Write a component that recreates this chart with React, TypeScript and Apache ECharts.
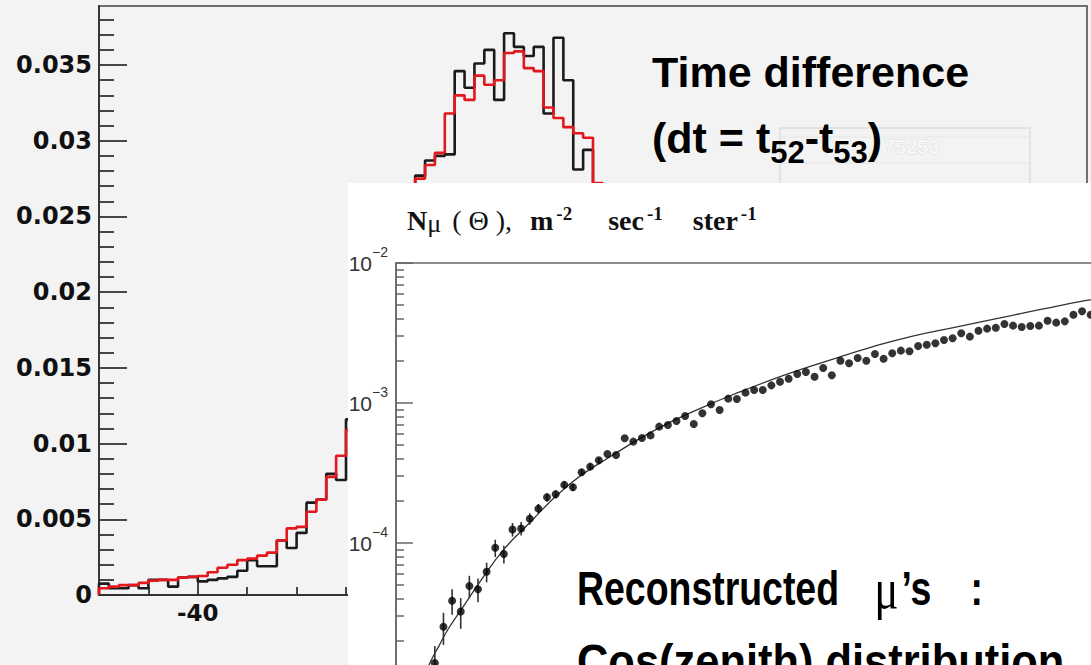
import React, { useEffect, useRef } from "react";
import * as echarts from "echarts";

// ---------- Histogram (dt = t52 - t53) ----------
const histXMin = -50;
const histXMax = 50;
const histBinWidth = 1;
const histXMajorTicks = [-40, -20, 0, 20, 40];
const histXMinorTicks = [-45, -35, -30, -25, -15, -10, -5, 5, 10, 15, 25, 30, 35, 45];
const histYMax = 0.0389;
const histYMajorTicks = [0, 0.005, 0.01, 0.015, 0.02, 0.025, 0.03, 0.035];
const histYMinorTicks = [
  0.001, 0.002, 0.003, 0.004, 0.006, 0.007, 0.008, 0.009, 0.011, 0.012, 0.013, 0.014,
  0.016, 0.017, 0.018, 0.019, 0.021, 0.022, 0.023, 0.024, 0.026, 0.027, 0.028, 0.029,
  0.031, 0.032, 0.033, 0.034, 0.036, 0.037, 0.038,
];
const blackHist = [
  0.00075, 0.00045, 0.00045, 0.00065, 0.00045, 0.001, 0.001, 0.00055, 0.00115, 0.0012,
  0.0009, 0.001, 0.0011, 0.0012, 0.0016, 0.0023, 0.0019, 0.0019, 0.0036, 0.0031,
  0.0041, 0.0061, 0.0063, 0.008, 0.0076, 0.0116, 0.013, 0.0155, 0.0178, 0.0205,
  0.023, 0.0255, 0.0277, 0.0287, 0.029, 0.0291, 0.0346, 0.0335, 0.0351, 0.036,
  0.0327, 0.0371, 0.0362, 0.0356, 0.0362, 0.0318, 0.0368, 0.034, 0.0281, 0.0294,
  0.026, 0.0245, 0.022, 0.02, 0.0175, 0.0155, 0.013, 0.0115, 0.0095, 0.008,
  0.0068, 0.0055, 0.0046, 0.0038, 0.0032, 0.0027, 0.0022, 0.0019, 0.0016, 0.0014,
  0.0012, 0.001, 0.0009, 0.0008, 0.0007, 0.0006, 0.00055, 0.0005, 0.00045, 0.0004,
  0.00035, 0.0003, 0.0003, 0.00025, 0.00025, 0.0002, 0.0002, 0.0002, 0.00015, 0.00015,
  0.00015, 0.0001, 0.0001, 0.0001, 0.0001, 0.0001, 0.00005, 0.00005, 0.00005, 0.00005,
];
const redHist = [
  0.00045, 0.00055, 0.00065, 0.00065, 0.0008, 0.00095, 0.001, 0.001, 0.00115, 0.0012,
  0.00125, 0.0015, 0.0018, 0.002, 0.0023, 0.0024, 0.0026, 0.0028, 0.0036, 0.0044,
  0.0045, 0.0055, 0.0063, 0.0078, 0.0092, 0.0109, 0.0128, 0.015, 0.0175, 0.02,
  0.0225, 0.025, 0.0275, 0.0284, 0.0292, 0.0318, 0.033, 0.0327, 0.0343, 0.0337,
  0.034, 0.0358, 0.0359, 0.0348, 0.0346, 0.0322, 0.0315, 0.0309, 0.0305, 0.0302,
  0.0272, 0.025, 0.0225, 0.02, 0.0178, 0.0155, 0.0135, 0.0115, 0.0098, 0.0083,
  0.007, 0.0058, 0.0048, 0.004, 0.0033, 0.0028, 0.0023, 0.0019, 0.0016, 0.0014,
  0.0012, 0.001, 0.0009, 0.0008, 0.0007, 0.0006, 0.00055, 0.0005, 0.00045, 0.0004,
  0.00035, 0.0003, 0.0003, 0.00025, 0.00025, 0.0002, 0.0002, 0.0002, 0.00015, 0.00015,
  0.00015, 0.0001, 0.0001, 0.0001, 0.0001, 0.0001, 0.00005, 0.00005, 0.00005, 0.00005,
];

// ---------- Inset: N_mu(Theta) vs cos(zenith) ----------
const muCos = [
  0.045, 0.055, 0.065, 0.075, 0.085, 0.095, 0.105, 0.115, 0.125, 0.135,
  0.145, 0.155, 0.165, 0.175, 0.185, 0.195, 0.205, 0.215, 0.225, 0.235,
  0.245, 0.255, 0.265, 0.275, 0.285, 0.295, 0.305, 0.315, 0.325, 0.335,
  0.345, 0.355, 0.365, 0.375, 0.385, 0.395, 0.405, 0.415, 0.425, 0.435,
  0.445, 0.455, 0.465, 0.475, 0.485, 0.495, 0.505, 0.515, 0.525, 0.535,
  0.545, 0.555, 0.565, 0.575, 0.585, 0.595, 0.605, 0.615, 0.625, 0.635,
  0.645, 0.655, 0.665, 0.675, 0.685, 0.695, 0.705, 0.715, 0.725, 0.735,
  0.745, 0.755, 0.765, 0.775, 0.785, 0.795, 0.805,
];
const muFlux = [
  1.39e-5, 2.52e-5, 3.87e-5, 3.24e-5, 4.93e-5, 4.67e-5, 6.24e-5, 9.25e-5, 8.34e-5, 1.25e-4,
  1.27e-4, 1.49e-4, 1.76e-4, 2.12e-4, 2.23e-4, 2.6e-4, 2.5e-4, 3.2e-4, 3.51e-4, 3.9e-4,
  4.32e-4, 4.25e-4, 5.6e-4, 5.3e-4, 5.62e-4, 5.87e-4, 6.78e-4, 6.97e-4, 7.43e-4, 8.07e-4,
  7.08e-4, 8.44e-4, 9.79e-4, 8.91e-4, 1.074e-3, 1.069e-3, 1.186e-3, 1.24e-3, 1.24e-3, 1.337e-3,
  1.42e-3, 1.492e-3, 1.61e-3, 1.665e-3, 1.54e-3, 1.778e-3, 1.578e-3, 2.005e-3, 1.922e-3, 2.096e-3,
  2.005e-3, 2.24e-3, 2.07e-3, 2.265e-3, 2.366e-3, 2.34e-3, 2.55e-3, 2.61e-3, 2.67e-3, 2.82e-3,
  2.9e-3, 3.15e-3, 2.98e-3, 3.28e-3, 3.4e-3, 3.45e-3, 3.67e-3, 3.57e-3, 3.49e-3, 3.55e-3,
  3.57e-3, 3.87e-3, 3.75e-3, 3.83e-3, 4.27e-3, 4.52e-3, 4.27e-3,
];
const muErr = [
  4.5e-6, 6.5e-6, 8e-6, 8e-6, 9e-6, 9e-6, 1.0e-5, 1.3e-5, 1.2e-5, 1.4e-5,
  1.4e-5, 1.4e-5, 1.4e-5, 1.5e-5, 1.5e-5, 1.5e-5, 1.5e-5, 1.6e-5, 1.6e-5, 1.7e-5,
];
const fitCos = [
  0.03, 0.04, 0.05, 0.06, 0.075, 0.1, 0.125, 0.15, 0.2, 0.25, 0.3, 0.35, 0.4, 0.45,
  0.5, 0.55, 0.6, 0.65, 0.7, 0.75, 0.8, 0.85,
];
const fitFlux = [
  1.0e-5, 1.42e-5, 1.85e-5, 2.4e-5, 3.3e-5, 5.6e-5, 9.0e-5, 1.3e-4, 2.6e-4, 4.2e-4, 6.4e-4,
  9.0e-4, 1.21e-3, 1.58e-3, 2.0e-3, 2.5e-3, 3.02e-3, 3.5e-3, 4.05e-3, 4.7e-3, 5.4e-3, 6.1e-3,
];
const insetYMinorTicks = [
  2e-5, 3e-5, 4e-5, 5e-5, 6e-5, 7e-5, 8e-5, 9e-5,
  2e-4, 3e-4, 4e-4, 5e-4, 6e-4, 7e-4, 8e-4, 9e-4,
  2e-3, 3e-3, 4e-3, 5e-3, 6e-3, 7e-3, 8e-3, 9e-3,
];

function stepData(vals: number[]): number[][] {
  const pts: number[][] = [[histXMin, 0]];
  vals.forEach((v, i) => pts.push([histXMin + i * histBinWidth, v]));
  pts.push([histXMin + vals.length * histBinWidth, vals[vals.length - 1]]);
  return pts;
}

const SANS = '"Liberation Sans", Arial, sans-serif';
const SERIF = '"Liberation Serif", "Times New Roman", serif';

export default function App() {
  const ref = useRef<HTMLDivElement>(null);
  useEffect(() => {
    if (!ref.current) return;
    const chart = echarts.init(ref.current, undefined, { renderer: "svg" });
    const histLabelFont = {
      fontFamily: "DejaVu Sans",
      fontWeight: "bold" as const,
      color: "#111",
    };
    const option: any = {
      animation: false,
      backgroundColor: "#f3f3f3",
      grid: [
        {
          left: 99, top: 6, width: 988, height: 589, show: true,
          borderColor: "#444", borderWidth: 1.5, backgroundColor: "transparent", z: 0,
        },
        {
          left: 396, top: 263, width: 863, height: 420, show: true,
          borderColor: "#666", borderWidth: 1.5, backgroundColor: "transparent", z: 15,
        },
      ],
      xAxis: [
        {
          gridIndex: 0, type: "value", min: histXMin, max: histXMax, position: "bottom",
          axisLine: { onZero: false, lineStyle: { color: "#333", width: 1.8 } },
          axisTick: { inside: true, length: 17, customValues: histXMajorTicks, lineStyle: { color: "#333", width: 1.8 } },
          axisLabel: { customValues: histXMajorTicks, margin: 6, fontSize: 23, ...histLabelFont },
          splitLine: { show: false },
        },
        {
          gridIndex: 0, type: "value", min: histXMin, max: histXMax, position: "bottom",
          axisLine: { show: false },
          axisTick: { inside: true, length: 8, customValues: histXMinorTicks, lineStyle: { color: "#333", width: 1.8 } },
          axisLabel: { show: false },
          splitLine: { show: false },
        },
        { gridIndex: 1, type: "value", min: 0, max: 1, show: false },
      ],
      yAxis: [
        {
          gridIndex: 0, type: "value", min: 0, max: histYMax, position: "left",
          axisLine: { onZero: false, lineStyle: { color: "#333", width: 1.8 } },
          axisTick: { inside: true, length: 28, customValues: histYMajorTicks, lineStyle: { color: "#333", width: 1.8 } },
          axisLabel: { customValues: histYMajorTicks, margin: 7, fontSize: 24, ...histLabelFont },
          splitLine: { show: false },
        },
        {
          gridIndex: 0, type: "value", min: 0, max: histYMax, position: "left",
          axisLine: { show: false, onZero: false },
          axisTick: { inside: true, length: 15, customValues: histYMinorTicks, lineStyle: { color: "#333", width: 1.8 } },
          axisLabel: { show: false },
          splitLine: { show: false },
        },
        {
          gridIndex: 1, type: "log", logBase: 10, min: 1e-5, max: 1e-2, position: "left", z: 20,
          axisLine: { onZero: false, lineStyle: { color: "#666", width: 1.5 } },
          axisTick: { inside: true, length: 17, lineStyle: { color: "#666", width: 1.5 } },
          axisLabel: {
            margin: 8,
            fontSize: 21,
            fontFamily: "Liberation Sans",
            color: "#333",
            formatter: (v: number) => `{base|10}{exp|\u2212${Math.round(-Math.log10(v))}}`,
            rich: {
              base: { fontFamily: "Liberation Sans", fontSize: 21, color: "#333", lineHeight: 36 },
              exp: { fontFamily: "Liberation Sans", fontSize: 14, color: "#333", lineHeight: 14, verticalAlign: "top" },
            },
          },
          splitLine: { show: false },
        },
        {
          gridIndex: 1, type: "log", logBase: 10, min: 1e-5, max: 1e-2, position: "left", z: 20,
          axisLine: { show: false, onZero: false },
          axisTick: { inside: true, length: 8, customValues: insetYMinorTicks, lineStyle: { color: "#666", width: 1.5 } },
          axisLabel: { show: false },
          splitLine: { show: false },
        },
      ],
      series: [
        {
          type: "line", name: "data", xAxisIndex: 0, yAxisIndex: 0, step: "end",
          data: stepData(blackHist), symbol: "none", z: 2,
          lineStyle: { color: "#1b1b1b", width: 2.6 },
        },
        {
          type: "line", name: "MC", xAxisIndex: 0, yAxisIndex: 0, step: "end",
          data: stepData(redHist), symbol: "none", z: 3,
          lineStyle: { color: "#e3171c", width: 2.6 },
        },
        {
          type: "line", name: "fit", xAxisIndex: 2, yAxisIndex: 2, smooth: true,
          data: fitCos.map((c, i) => [c, fitFlux[i]]), symbol: "none", z: 20,
          lineStyle: { color: "#333", width: 1.3 },
        },
        {
          type: "custom", name: "errors", xAxisIndex: 2, yAxisIndex: 2, z: 21,
          data: muErr.map((e, i) => [muCos[i], muFlux[i] - e, muFlux[i] + e]),
          renderItem: (_p: any, api: any) => {
            const a = api.coord([api.value(0), api.value(1)]);
            const b = api.coord([api.value(0), api.value(2)]);
            return {
              type: "line",
              shape: { x1: a[0], y1: a[1], x2: b[0], y2: b[1] },
              style: { stroke: "#333", lineWidth: 1.6 },
            };
          },
        },
        {
          type: "scatter", name: "muons", xAxisIndex: 2, yAxisIndex: 2, z: 22,
          data: muCos.map((c, i) => [c, muFlux[i]]), symbol: "circle", symbolSize: 8,
          itemStyle: { color: "#000" },
        },
      ],
      graphic: [
        // faint ghost of the ROOT statistics box behind the slide text
        { type: "rect", z: 1, shape: { x: 780, y: 128, width: 250, height: 60 }, style: { fill: "none", stroke: "#e2e2e2", lineWidth: 2 } },
        { type: "rect", z: 1, shape: { x: 780, y: 137, width: 250, height: 26 }, style: { fill: "none", stroke: "#e6e6e6", lineWidth: 1 } },
        {
          type: "text", z: 1, x: 884, y: 147,
          style: { text: "75253", font: `bold 20px ${SANS}`, fill: "#f7f7f7", stroke: "#dedede", lineWidth: 1, verticalAlign: "middle" },
        },
        { type: "rect", z: 10, shape: { x: 348, y: 183, width: 1000, height: 600 }, style: { fill: "#ffffff" } },
        {
          type: "text", z: 30, x: 652, y: 72,
          style: { text: "Time difference", font: `bold 43px ${SANS}`, fill: "#000", verticalAlign: "middle" },
        },
        {
          type: "text", z: 30, x: 652, y: 138,
          style: {
            text: "{a|(dt = t}{s|52}{a|-t}{s|53}{a|)}",
            verticalAlign: "middle",
            rich: {
              a: { font: `bold 43px ${SANS}`, fill: "#000", lineHeight: 60 },
              s: { font: `bold 31px ${SANS}`, fill: "#000", lineHeight: 28, verticalAlign: "bottom" },
            },
          },
        },
        {
          type: "text", z: 30, x: 407, y: 220,
          style: {
            text: "{b|N}{sub|\u03bc}{n|( \u0398 ),}{bm|m}{sup|-2}{bs|sec}{sup|-1}{bt|ster}{sup|-1}",
            verticalAlign: "middle",
            rich: {
              b: { font: `bold 28px ${SERIF}`, fill: "#111", lineHeight: 32 },
              bm: { font: `bold 28px ${SERIF}`, fill: "#111", lineHeight: 32, padding: [0, 0, 0, 18] },
              bs: { font: `bold 28px ${SERIF}`, fill: "#111", lineHeight: 32, padding: [0, 0, 0, 36] },
              bt: { font: `bold 28px ${SERIF}`, fill: "#111", lineHeight: 32, padding: [0, 0, 0, 30] },
              n: { font: `28px ${SERIF}`, fill: "#111", lineHeight: 32, padding: [0, 0, 0, 11] },
              sub: { font: `26px ${SERIF}`, fill: "#111", lineHeight: 6, verticalAlign: "bottom" },
              sup: { font: `bold 19px ${SERIF}`, fill: "#111", lineHeight: 27, verticalAlign: "top", padding: [0, 0, 0, 3] },
            },
          },
        },
        {
          type: "text", z: 30, x: 577, y: 588, scaleX: 0.78,
          style: {
            text: "{a|Reconstructed}{m|\u03bc}{s|\u2019s}{c|:}",
            verticalAlign: "middle",
            rich: {
              a: { font: `bold 48px ${SANS}`, fill: "#000" },
              m: { font: `58px ${SERIF}`, fill: "#000", padding: [0, 0, 0, 45] },
              s: { font: `bold 48px ${SANS}`, fill: "#000", padding: [0, 0, 0, 4] },
              c: { font: `bold 48px ${SANS}`, fill: "#000", padding: [0, 0, 0, 50] },
            },
          },
        },
        {
          type: "text", z: 30, x: 577, y: 662, scaleX: 0.905,
          style: { text: "Cos(zenith) distribution", font: `bold 48px ${SANS}`, fill: "#000", verticalAlign: "middle" },
        },
      ],
    };
    chart.setOption(option);
    return () => chart.dispose();
  }, []);
  return (
    <div style={{ position: "fixed", left: 0, top: 0, width: 1091, height: 665, overflow: "hidden", background: "#f3f3f3" }}>
      <div ref={ref} style={{ width: 1300, height: 720 }} />
    </div>
  );
}
